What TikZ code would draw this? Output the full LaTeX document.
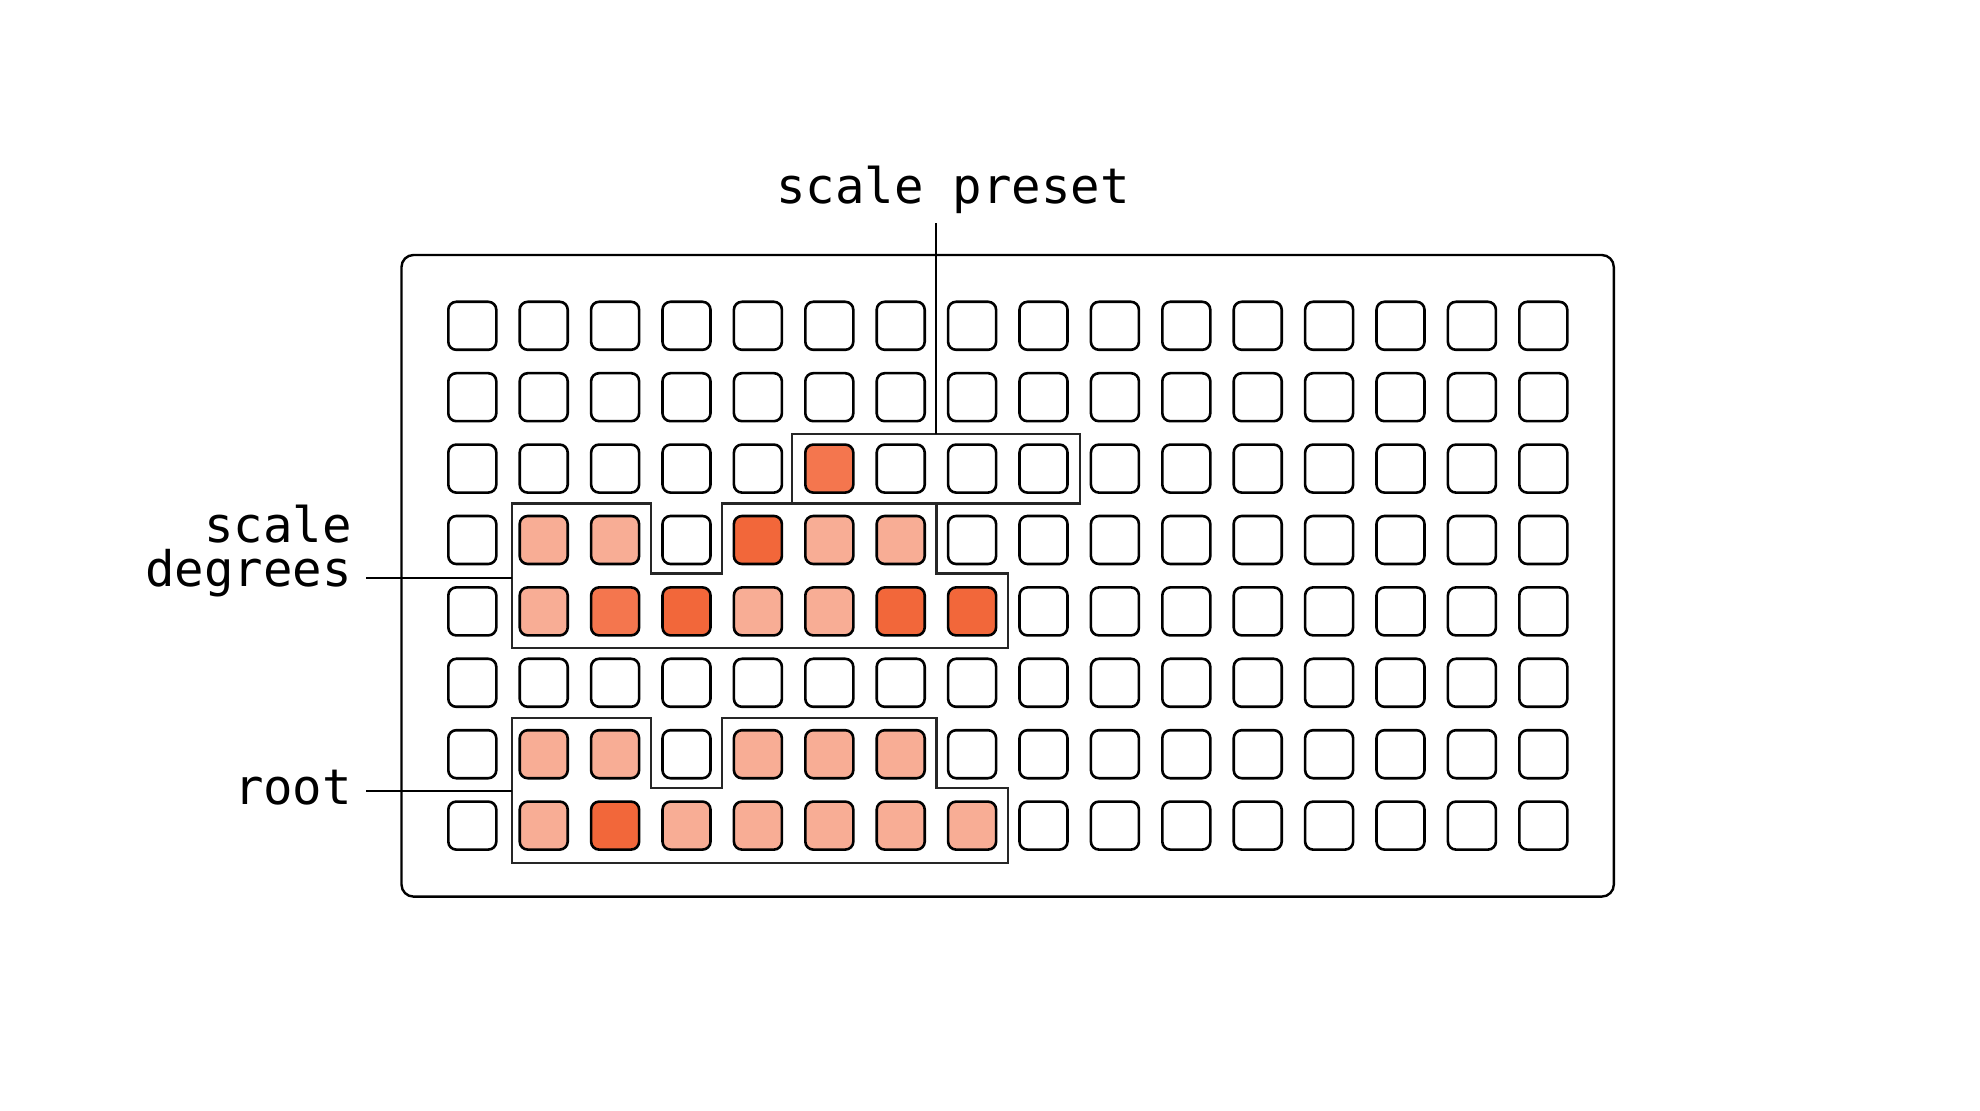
\documentclass[tikz,border=0pt]{standalone}
\usepackage{fontspec}
\setmonofont{DejaVu Sans Mono}
\definecolor{light}{HTML}{F8AD95}
\definecolor{mid}{HTML}{F4764E}
\definecolor{dark}{HTML}{F2673A}
\newcommand\setcell[3]{\expandafter\def\csname cellc#1r#2\endcsname{#3}}
\setcell{6}{3}{mid}
\setcell{2}{4}{light}\setcell{3}{4}{light}\setcell{5}{4}{dark}\setcell{6}{4}{light}\setcell{7}{4}{light}
\setcell{2}{5}{light}\setcell{3}{5}{mid}\setcell{4}{5}{dark}\setcell{5}{5}{light}\setcell{6}{5}{light}\setcell{7}{5}{dark}\setcell{8}{5}{dark}
\setcell{2}{7}{light}\setcell{3}{7}{light}\setcell{5}{7}{light}\setcell{6}{7}{light}\setcell{7}{7}{light}
\setcell{2}{8}{light}\setcell{3}{8}{dark}\setcell{4}{8}{light}\setcell{5}{8}{light}\setcell{6}{8}{light}\setcell{7}{8}{light}\setcell{8}{8}{light}
\begin{document}
\begin{tikzpicture}[x=0.5pt,y=-0.5pt,
  pad/.style={draw=black, line width=1.3pt, rectangle, rounded corners=4pt,
    minimum width=24pt, minimum height=24pt, inner sep=0pt},
  panel/.style={draw=black, line width=1.2pt, rounded corners=6pt},
  group/.style={draw=black!85, line width=1.1pt},
  link/.style={draw=black, line width=1pt},
  lab/.style={font=\ttfamily\fontsize{24.5}{22}\selectfont, inner sep=0pt, text=black}]
\useasboundingbox (0,0) rectangle (1980,1111);
% panel
\draw[panel] (401.5,255) rectangle (1613.8,896.6);
% pads
\foreach \i in {1,...,16}{\foreach \j in {1,...,8}{
  \ifcsname cellc\i r\j\endcsname\edef\fc{\csname cellc\i r\j\endcsname}\else\def\fc{white}\fi
  \node[pad, fill=\fc] (p-\i-\j) at ({472.3+71.4*(\i-1)},{325.8+71.4*(\j-1)}) {};
}}
% group outlines
\draw[group] (792,434) rectangle (1080,503.5);
\draw[group] (512,503.5) -- (650.8,503.5) -- (650.8,573.5) -- (722.2,573.5) -- (722.2,503.5)
  -- (936.4,503.5) -- (936.4,573.5) -- (1007.8,573.5) -- (1007.8,648) -- (512,648) -- cycle;
\draw[group] (512,718) -- (650.8,718) -- (650.8,788) -- (722.2,788) -- (722.2,718)
  -- (936.4,718) -- (936.4,788) -- (1007.8,788) -- (1007.8,863) -- (512,863) -- cycle;
% labels
\node[lab, anchor=base, outer ysep=5pt] (sp) at (953,203.3) {scale preset};
\node[lab, anchor=base east, align=right, outer xsep=7pt] (sd) at (366,587) {scale\\degrees};
\node[lab, anchor=base east, outer xsep=7pt] (rt) at (366,804.3) {root};
% connectors
\coordinate (spin) at (936.4,434);
\coordinate (sdin) at (512,577.7);
\coordinate (rtin) at (512,790.5);
\draw[link] (sp.south -| spin) -- (spin);
\draw[link] (sd.east |- sdin) -- (sdin);
\draw[link] (rt.east |- rtin) -- (rtin);
\end{tikzpicture}
\end{document}
